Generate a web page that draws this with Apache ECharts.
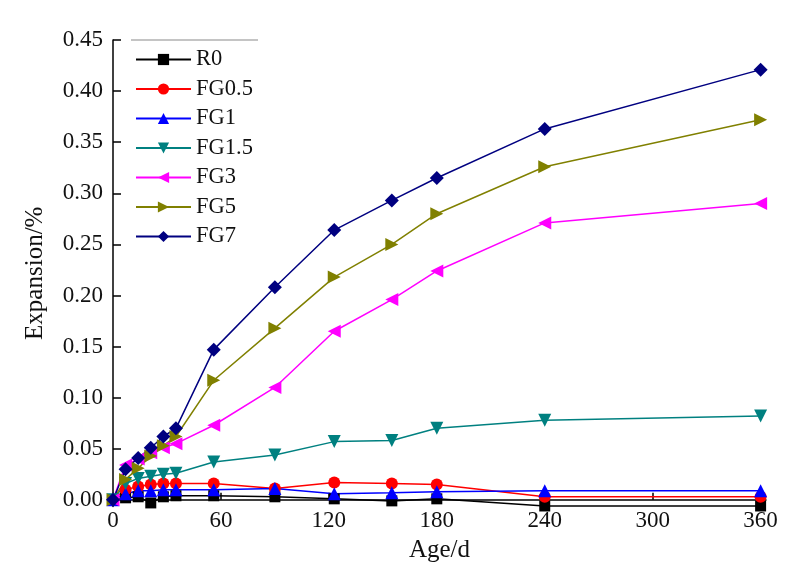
<!DOCTYPE html>
<html>
<head>
<meta charset="utf-8">
<script src="https://cdn.jsdelivr.net/npm/echarts@6/dist/echarts.min.js"></script>
<style>html,body{margin:0;padding:0;background:#fff;}#c{width:803px;height:583px;}</style>
</head>
<body>
<div id="c"></div>
<script>
var ages = [0, 7, 14, 21, 28, 35, 56, 90, 123, 155, 180, 240, 360];
var R0    = [0, 0.002, 0.003, -0.003, 0.003, 0.004, 0.004, 0.003, 0.001, -0.001, 0.001, -0.006, -0.006];
var FG05  = [0, 0.010, 0.013, 0.015, 0.016, 0.016, 0.016, 0.011, 0.017, 0.016, 0.015, 0.003, 0.003];
var FG1   = [0, 0.006, 0.009, 0.009, 0.010, 0.010, 0.010, 0.011, 0.006, 0.007, 0.008, 0.009, 0.009];
var FG15  = [0, 0.016, 0.021, 0.023, 0.025, 0.026, 0.037, 0.044, 0.057, 0.058, 0.070, 0.078, 0.082];
var FG3   = [0, 0.034, 0.040, 0.046, 0.051, 0.055, 0.073, 0.110, 0.165, 0.196, 0.224, 0.271, 0.290];
var FG5   = [0, 0.020, 0.031, 0.043, 0.053, 0.062, 0.117, 0.168, 0.218, 0.250, 0.280, 0.326, 0.372];
var FG7   = [0, 0.030, 0.041, 0.051, 0.062, 0.070, 0.147, 0.208, 0.264, 0.293, 0.315, 0.363, 0.421];
var xTicks = [0, 60, 120, 180, 240, 300, 360];
var yTicks = [0, 0.05, 0.10, 0.15, 0.20, 0.25, 0.30, 0.35, 0.40, 0.45];
var names = ['R0', 'FG0.5', 'FG1', 'FG1.5', 'FG3', 'FG5', 'FG7'];

var FONT = 'Liberation Serif';
function pairs(v) { return ages.map(function (a, i) { return [a, v[i]]; }); }
var specs = [
  {name: names[0], data: R0,   color: '#000000', symbol: 'rect',     rot: 0,   size: 11},
  {name: names[1], data: FG05, color: '#ff0000', symbol: 'circle',   rot: 0,   size: 12},
  {name: names[2], data: FG1,  color: '#0000ff', symbol: 'triangle', rot: 0,   size: 13},
  {name: names[3], data: FG15, color: '#008080', symbol: 'triangle', rot: 180, size: 13},
  {name: names[4], data: FG3,  color: '#ff00ff', symbol: 'triangle', rot: 90,  size: 13},
  {name: names[5], data: FG5,  color: '#808000', symbol: 'triangle', rot: -90, size: 13},
  {name: names[6], data: FG7,  color: '#000080', symbol: 'diamond',  rot: 0,   size: 14}
];
var series = specs.map(function (s) {
  return {
    name: s.name, type: 'line', data: pairs(s.data),
    symbol: s.symbol, symbolRotate: s.rot, symbolSize: s.size,
    showAllSymbol: true, clip: false,
    lineStyle: {color: s.color, width: 1.5},
    itemStyle: {color: s.color},
    z: 2
  };
});

var chart = echarts.init(document.getElementById('c'), null, {renderer: 'canvas'});
chart.setOption({
  backgroundColor: '#ffffff',
  animation: false,
  textStyle: {fontFamily: FONT},
  grid: {left: 113, right: 37, top: 40, bottom: 76.5, containLabel: false},
  legend: {
    orient: 'vertical', left: 130, top: 43,
    itemWidth: 55, itemHeight: 14, itemGap: 6.5,
    data: names,
    textStyle: {fontFamily: FONT, fontSize: 22.5, color: '#111', lineHeight: 20}
  },
  graphic: [{
    type: 'line', shape: {x1: 131, y1: 40, x2: 258, y2: 40},
    style: {stroke: '#b0b0b0', lineWidth: 1.5}
  }],
  xAxis: {
    type: 'value', min: 0, max: 363,
    name: 'Age/d', nameLocation: 'middle', nameGap: 31,
    nameTextStyle: {fontFamily: FONT, fontSize: 25, color: '#111'},
    axisLine: {show: true, lineStyle: {color: '#000', width: 1.5}},
    axisTick: {show: true, inside: true, length: 7, customValues: xTicks, lineStyle: {color: '#000', width: 1.5}},
    axisLabel: {customValues: xTicks, margin: 3, fontFamily: FONT, fontSize: 23, color: '#111'},
    splitLine: {show: false}
  },
  yAxis: {
    type: 'value', min: -0.0065, max: 0.45,
    name: 'Expansion/%', nameLocation: 'middle', nameGap: 65, nameRotate: 90,
    nameTextStyle: {fontFamily: FONT, fontSize: 25, color: '#111'},
    axisLine: {show: true, lineStyle: {color: '#000', width: 1.5}},
    axisTick: {show: true, inside: true, length: 8, customValues: yTicks, lineStyle: {color: '#000', width: 1.5}},
    axisLabel: {customValues: yTicks, margin: 10, fontFamily: FONT, fontSize: 23, color: '#111',
      formatter: function (v) { return v.toFixed(2); }},
    splitLine: {show: false}
  },
  series: series
});
</script>
</body>
</html>
